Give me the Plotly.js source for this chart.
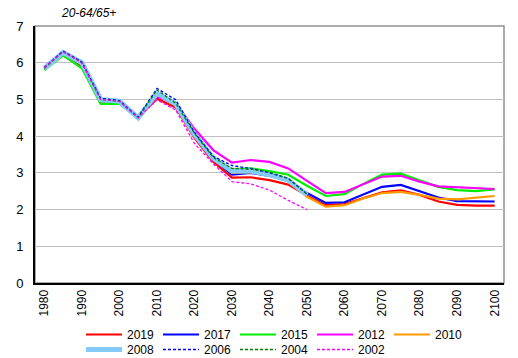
<!DOCTYPE html>
<html>
<head>
<meta charset="utf-8">
<script src="https://cdn.plot.ly/plotly-3.0.1.min.js"></script>
<style>html,body{margin:0;padding:0;background:#fff;}#chart{width:518px;height:358px;}</style>
</head>
<body>
<div id="chart"></div>
<script>
const years = [1980,1985,1990,1995,2000,2005,2010,2015,2020,2025,2030,2035,2040,2045,2050,2055,2060,2065,2070,2075,2080,2085,2090,2095,2100];
const tickYears = [1980,1990,2000,2010,2020,2030,2040,2050,2060,2070,2080,2090,2100];

const v2019 = [5.85,6.2,5.9,4.95,4.95,4.5,5.02,4.78,3.95,3.3,2.87,2.88,2.8,2.68,2.38,2.12,2.15,2.32,2.47,2.52,2.4,2.22,2.13,2.11,2.11];
const v2017 = [5.85,6.25,5.95,4.95,4.95,4.5,5.12,4.85,4.02,3.38,2.95,3.0,2.92,2.78,2.45,2.18,2.2,2.42,2.62,2.67,2.5,2.33,2.23,2.22,2.22];
const v2015 = [5.8,6.2,5.85,4.88,4.88,4.5,5.12,4.87,4.05,3.42,3.1,3.12,3.05,2.95,2.65,2.37,2.42,2.7,2.95,2.98,2.8,2.62,2.53,2.5,2.55];
const v2012 = [5.85,6.3,6.0,5.0,4.95,4.5,5.08,4.9,4.2,3.62,3.28,3.35,3.3,3.12,2.78,2.45,2.48,2.7,2.9,2.92,2.76,2.63,2.6,2.58,2.56];
const v2010 = [5.85,6.25,5.95,4.98,4.95,4.5,5.2,4.88,4.08,3.42,3.0,3.02,2.95,2.78,2.35,2.08,2.12,2.3,2.45,2.48,2.4,2.3,2.28,2.33,2.37];
const v2008 = [5.85,6.28,6.0,5.0,4.95,4.5,5.17,4.88,4.05,3.4,3.05,3.05,2.95,2.8,2.4];
const v2006 = [5.87,6.32,6.02,5.03,4.97,4.52,5.3,4.99,4.1,3.45,3.2,3.12,3.0,2.85,2.42];
const v2004 = [5.85,6.3,6.0,5.0,4.95,4.5,5.26,4.9,4.08,3.42,3.12,3.1,3.02,2.85,2.42];
const v2002 = [5.87,6.3,6.0,5.0,4.95,4.5,4.99,4.71,3.8,3.25,2.76,2.7,2.53,2.25,2.0];

const seriesNames = ['2019','2017','2015','2012','2010','2008','2006','2004','2002'];
const seriesValues = [v2019,v2017,v2015,v2012,v2010,v2008,v2006,v2004,v2002];
const styles = [
  {color:'#ff0000', width:2.2, dash:'solid', legend:'legend'},
  {color:'#0000ff', width:2.2, dash:'solid', legend:'legend'},
  {color:'#00ee00', width:2.2, dash:'solid', legend:'legend'},
  {color:'#ff00ff', width:2.2, dash:'solid', legend:'legend'},
  {color:'#ff9900', width:2.2, dash:'solid', legend:'legend'},
  {color:'#84ccf6', width:5, dash:'solid', legend:'legend2'},
  {color:'#0000ff', width:1.3, dash:'3px,2px', legend:'legend2'},
  {color:'#008000', width:1.3, dash:'3px,2px', legend:'legend2'},
  {color:'#ff00ff', width:1.3, dash:'3px,2px', legend:'legend2'}
];

const traces = seriesNames.map((n,i)=>({
  type:'scatter', mode:'lines', name:n,
  x: years.slice(0, seriesValues[i].length), y: seriesValues[i],
  line:{color:styles[i].color, width:styles[i].width, dash:styles[i].dash},
  legend: styles[i].legend, hoverinfo:'skip'
}));

const font = {family:'"Liberation Sans", Arial, sans-serif', color:'#000'};
const legendBase = {orientation:'h', xanchor:'left', yanchor:'top', xref:'container', yref:'container', x:81/518,
  entrywidth:26, entrywidthmode:'pixels', font:{...font, size:12},
  bgcolor:'rgba(0,0,0,0)', itemwidth:36, tracegroupgap:0};

const layout = {
  width:518, height:358,
  margin:{l:35, r:14, t:26, b:75, autoexpand:false},
  paper_bgcolor:'#fff', plot_bgcolor:'#fff',
  font:font,
  title:{text:'20-64/65+', font:{...font, size:12, style:'italic'}, xref:'container', yref:'container', x:62/518, xanchor:'left', y:1-13/358, yanchor:'middle'},
  xaxis:{range:[1977.5,2102.5], tickmode:'array', tickvals:tickYears, ticktext:tickYears.map(String),
    tickangle:-90, ticks:'', showgrid:false, zeroline:false, showline:true, linecolor:'#000', linewidth:2,
    tickfont:{...font, size:12}, automargin:false},
  yaxis:{range:[0,7], dtick:1, tick0:0, ticks:'', showgrid:true, gridcolor:'#c0c0c0', gridwidth:1,
    zeroline:false, showline:true, linecolor:'#000', linewidth:2, tickfont:{...font, size:13}, automargin:false,
    ticklabelstandoff:7},
  shapes:[{type:'rect', xref:'paper', yref:'paper', x0:0, x1:1, y0:0, y1:1, line:{color:'#909090', width:1.5}, layer:'below'}],
  legend:{...legendBase, y:1-320/358},
  legend2:{...legendBase, y:1-335/358},
  showlegend:true
};

Plotly.newPlot('chart', traces, layout, {staticPlot:true, displayModeBar:false});
</script>
</body>
</html>
